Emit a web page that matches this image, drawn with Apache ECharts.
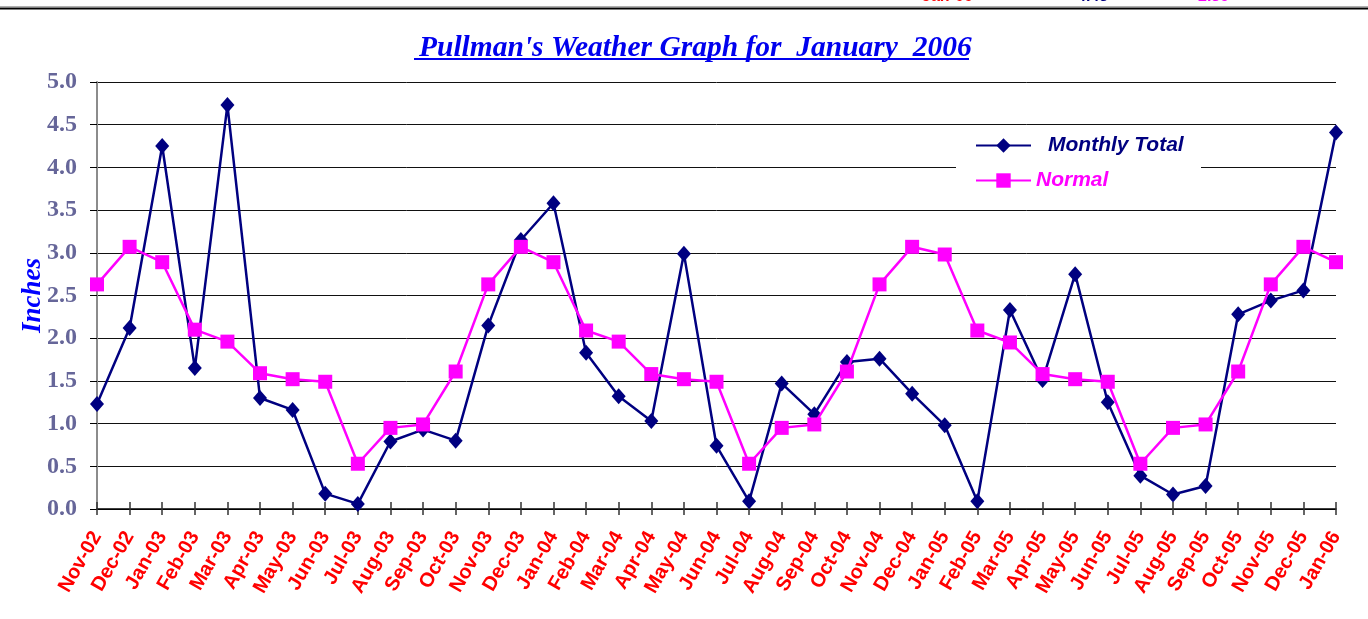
<!DOCTYPE html>
<html>
<head>
<meta charset="utf-8">
<script src="https://cdn.jsdelivr.net/npm/echarts@6/dist/echarts.min.js"></script>
<style>
  html, body { margin: 0; padding: 0; background: #fff; }
  #chart { width: 1368px; height: 619px; }
</style>
</head>
<body>
<div id="chart"></div>
<script>
const categories = ['Nov-02','Dec-02','Jan-03','Feb-03','Mar-03','Apr-03','May-03','Jun-03','Jul-03','Aug-03','Sep-03','Oct-03',
  'Nov-03','Dec-03','Jan-04','Feb-04','Mar-04','Apr-04','May-04','Jun-04','Jul-04','Aug-04','Sep-04','Oct-04',
  'Nov-04','Dec-04','Jan-05','Feb-05','Mar-05','Apr-05','May-05','Jun-05','Jul-05','Aug-05','Sep-05','Oct-05',
  'Nov-05','Dec-05','Jan-06'];
const monthlyTotal = [1.23, 2.12, 4.25, 1.65, 4.73, 1.30, 1.16, 0.18, 0.06, 0.79, 0.93, 0.80,
  2.15, 3.15, 3.58, 1.83, 1.32, 1.03, 2.99, 0.74, 0.09, 1.47, 1.11, 1.72,
  1.76, 1.35, 0.98, 0.09, 2.33, 1.51, 2.75, 1.25, 0.39, 0.17, 0.27, 2.28,
  2.44, 2.56, 4.41];
const normal = [2.63, 3.07, 2.89, 2.10, 1.96, 1.59, 1.52, 1.49, 0.53, 0.95, 0.99, 1.61,
  2.63, 3.07, 2.89, 2.09, 1.96, 1.58, 1.52, 1.49, 0.53, 0.95, 0.99, 1.61,
  2.63, 3.07, 2.98, 2.09, 1.95, 1.58, 1.52, 1.49, 0.53, 0.95, 0.99, 1.61,
  2.63, 3.07, 2.89];
const seriesNames = ['Monthly Total', 'Normal'];
const titleText = "Pullman's Weather Graph for  January  2006";
const yAxisName = 'Inches';
const headerFragments = ['Jan-06', '4.43', '2.89'];

const chart = echarts.init(document.getElementById('chart'), null, { renderer: 'canvas' });

const xAxisBase = {
  type: 'category',
  data: categories,
  boundaryGap: false,
  gridIndex: 0,
  position: 'bottom'
};

const legendText = {
  fontFamily: '"Liberation Sans", Arial, sans-serif',
  fontSize: 21, fontWeight: 'bold', fontStyle: 'italic'
};

const option = {
  animation: false,
  backgroundColor: '#ffffff',
  title: {
    text: titleText,
    left: 414,
    top: 28,
    textStyle: {
      fontFamily: '"Liberation Serif", "Times New Roman", serif',
      fontSize: 29.5,
      fontWeight: 'bold',
      fontStyle: 'italic',
      color: '#0000ee'
    }
  },
  legend: [
    {
      data: [seriesNames[0]],
      left: 975,
      top: 135,
      padding: 0,
      itemWidth: 55,
      itemHeight: 18,
      textStyle: Object.assign({ color: '#000080', padding: [0, 0, 0, 12] }, legendText)
    },
    {
      data: [seriesNames[1]],
      left: 975,
      top: 170,
      padding: 0,
      itemWidth: 55,
      itemHeight: 18,
      textStyle: Object.assign({ color: '#ff00ff' }, legendText)
    }
  ],
  grid: { left: 97, right: 32, top: 82, bottom: 110, containLabel: false },
  xAxis: [
    Object.assign({}, xAxisBase, {
      axisLine: { show: true, lineStyle: { color: '#000', width: 1.5 } },
      axisTick: { show: true, inside: false, length: 6, interval: 0, lineStyle: { color: '#333', width: 1.5 } },
      axisLabel: {
        show: true, interval: 0, rotate: 60, margin: 24,
        fontFamily: '"Liberation Sans", Arial, sans-serif',
        fontSize: 20, fontWeight: 'bold', color: '#ff0000'
      },
      splitLine: { show: false }
    }),
    Object.assign({}, xAxisBase, {
      axisLine: { show: false },
      axisTick: { show: true, inside: true, length: 7, interval: 0, lineStyle: { color: '#333', width: 1.5 } },
      axisLabel: { show: false },
      splitLine: { show: false }
    })
  ],
  yAxis: {
    type: 'value',
    min: 0, max: 5, interval: 0.5,
    name: yAxisName,
    nameLocation: 'middle',
    nameRotate: 90,
    nameGap: 50,
    nameMoveOverlap: false,
    nameTextStyle: {
      fontFamily: '"Liberation Serif", "Times New Roman", serif',
      fontSize: 27, fontWeight: 'bold', fontStyle: 'italic', color: '#0000ff'
    },
    axisLine: { show: true, lineStyle: { color: '#8c8c8c', width: 2 } },
    axisTick: { show: true, length: 7, lineStyle: { color: '#000', width: 1 } },
    axisLabel: {
      margin: 20,
      formatter: v => v.toFixed(1),
      fontFamily: '"Liberation Serif", "Times New Roman", serif',
      fontSize: 24, fontWeight: 'bold', color: '#666699'
    },
    splitLine: { show: true, lineStyle: { color: '#111', width: 1 } }
  },
  series: [
    {
      name: seriesNames[0],
      type: 'line',
      data: monthlyTotal,
      xAxisIndex: 0,
      symbol: 'diamond',
      symbolSize: [14, 16],
      lineStyle: { color: '#000080', width: 2.5 },
      itemStyle: { color: '#000080' },
      z: 2
    },
    {
      name: seriesNames[1],
      type: 'line',
      data: normal,
      xAxisIndex: 0,
      symbol: 'rect',
      symbolSize: 14,
      lineStyle: { color: '#ff00ff', width: 2.5 },
      itemStyle: { color: '#ff00ff' },
      z: 3
    }
  ],
  graphic: [
    { type: 'rect', z: 3, shape: { x: 956, y: 128, width: 245, height: 76 }, style: { fill: '#ffffff' } },
    { type: 'line', z: 5, shape: { x1: 414, y1: 59, x2: 969, y2: 59 }, style: { stroke: '#0000ee', lineWidth: 2 } },
    { type: 'line', z: 5, shape: { x1: 0, y1: 6.5, x2: 1368, y2: 6.5 }, style: { stroke: '#b0b0b0', lineWidth: 1 } },
    { type: 'line', z: 5, shape: { x1: 0, y1: 8.5, x2: 1368, y2: 8.5 }, style: { stroke: '#000000', lineWidth: 2 } },
    { type: 'text', z: 5, x: 922, y: 5, style: { text: headerFragments[0], fill: '#ff0000', font: 'bold 16px "Liberation Sans", Arial', verticalAlign: 'bottom' } },
    { type: 'text', z: 5, x: 1077, y: 5, style: { text: headerFragments[1], fill: '#000080', font: 'bold 16px "Liberation Sans", Arial', verticalAlign: 'bottom' } },
    { type: 'text', z: 5, x: 1198, y: 5, style: { text: headerFragments[2], fill: '#ff00ff', font: 'bold 16px "Liberation Sans", Arial', verticalAlign: 'bottom' } }
  ]
};

chart.setOption(option);
</script>
</body>
</html>
